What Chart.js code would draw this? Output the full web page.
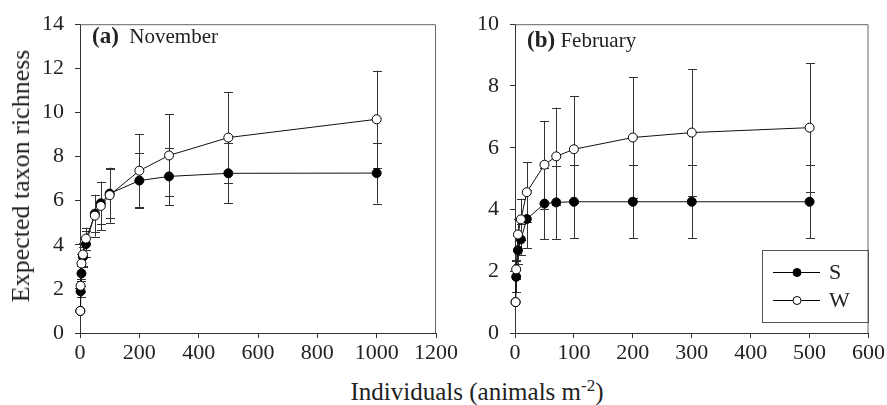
<!DOCTYPE html>
<html>
<head>
<meta charset="utf-8">
<script src="https://cdn.jsdelivr.net/npm/chart.js@4.4.1/dist/chart.umd.min.js"></script>
<style>
  body { margin: 0; background: #fff; width: 887px; height: 405px; position: relative; overflow: hidden; font-family: "Liberation Serif", "DejaVu Serif", serif; color: #222; }
  .box { position: absolute; top: 0; }
  .lbl { position: absolute; white-space: nowrap; }
  .lbl b { font-size: 23px; }
  .ytitle { position: absolute; left: 21px; top: 176px; transform: translate(-50%, -50%) rotate(-90deg); font-size: 26px; white-space: nowrap; }
  .xtitle { position: absolute; left: 477px; top: 391px; transform: translate(-50%, -50%); font-size: 25px; white-space: nowrap; }
  .xtitle sup { font-size: 17px; }
</style>
</head>
<body>
<div class="box" style="left:0;width:460px;height:370px"><canvas id="chartA" width="460" height="370"></canvas></div>
<div class="box" style="left:460px;width:427px;height:370px"><canvas id="chartB" width="427" height="370"></canvas></div>
<div class="lbl" style="left:92px;top:23px;font-size:21px"><b>(a)</b>&nbsp; November</div>
<div class="lbl" style="left:527px;top:27px;font-size:21px"><b>(b)</b> February</div>
<div class="ytitle">Expected taxon richness</div>
<div class="xtitle">Individuals (animals m<sup>-2</sup>)</div>
<script>
// (a) listopad
const xNov = [1, 2, 5, 10, 20, 50, 70, 100, 200, 300, 500, 1000];
const sNov = [1, 1.89, 2.70, 3.45, 4.03, 5.41, 5.88, 6.32, 6.91, 7.10, 7.24, 7.25];
const sNovErr = [0, 0.25, 0.35, 0.45, 0.6, 0.85, 0.95, 1.1, 1.24, 1.30, 1.36, 1.38];
const wNov = [1, 2.14, 3.15, 3.56, 4.28, 5.32, 5.76, 6.25, 7.36, 8.05, 8.86, 9.69];
const wNovErr = [0, 0.3, 0.45, 0.5, 0.5, 0.95, 1.1, 1.25, 1.67, 1.86, 2.07, 2.2];

// (b) luty
const xFeb = [1, 2, 5, 10, 20, 50, 70, 100, 200, 300, 500];
const sFeb = [1, 1.82, 2.68, 3.03, 3.69, 4.19, 4.23, 4.25, 4.25, 4.25, 4.25];
const sFebErr = [0, 0.5, 0.45, 0.5, 0.95, 1.16, 1.19, 1.18, 1.18, 1.18, 1.18];
const wFeb = [1, 2.06, 3.19, 3.68, 4.56, 5.45, 5.72, 5.95, 6.33, 6.49, 6.65];
const wFebErr = [0, 0.3, 0.5, 0.67, 0.98, 1.42, 1.58, 1.73, 1.95, 2.06, 2.09];

const yTicksNov = [0, 2, 4, 6, 8, 10, 12, 14];
const yTicksFeb = [0, 2, 4, 6, 8, 10];
const xTicksNov = [0, 200, 400, 600, 800, 1000, 1200];
const xTicksFeb = [0, 100, 200, 300, 400, 500, 600];

const serif = '"Liberation Serif", "DejaVu Serif", serif';

function pts(xs, ys) {
    return xs.map((x, i) => ({ x: x, y: ys[i] }));
}

// słupki błędów rysowane przez skale wykresu
const errorBars = {
    id: 'errorBars',
    beforeDatasetsDraw(chart) {
        const ctx = chart.ctx;
        const xs = chart.scales.x, ys = chart.scales.y;
        const a = chart.chartArea;
        ctx.save();
        // ramka wokół obszaru wykresu
        ctx.strokeStyle = '#666';
        ctx.lineWidth = 1;
        ctx.beginPath();
        ctx.moveTo(a.left, a.top + 0.5);
        ctx.lineTo(a.right - 0.5, a.top + 0.5);
        ctx.lineTo(a.right - 0.5, a.bottom);
        ctx.stroke();
        chart.data.datasets.forEach(ds => {
            if (!ds.errors) return;
            ctx.strokeStyle = '#333';
            ds.data.forEach((p, i) => {
                const e = ds.errors[i];
                if (!e) return;
                const px = Math.round(xs.getPixelForValue(p.x)) + 0.5;
                const top = ys.getPixelForValue(p.y + e);
                const bot = ys.getPixelForValue(p.y - e);
                ctx.beginPath();
                ctx.moveTo(px, top);
                ctx.lineTo(px, bot);
                ctx.moveTo(px - 4.5, Math.round(top) + 0.5);
                ctx.lineTo(px + 4.5, Math.round(top) + 0.5);
                ctx.moveTo(px - 4.5, Math.round(bot) + 0.5);
                ctx.lineTo(px + 4.5, Math.round(bot) + 0.5);
                ctx.stroke();
            });
        });
        ctx.restore();
    }
};

// legenda w ramce (tylko panel b)
const boxLegend = {
    id: 'boxLegend',
    afterDraw(chart) {
        if (!chart.options.plugins.boxLegend || !chart.options.plugins.boxLegend.show) return;
        const ctx = chart.ctx;
        const left = 762 - 460, top = 250, w = 106, h = 72;
        ctx.save();
        ctx.strokeStyle = '#555';
        ctx.lineWidth = 1;
        ctx.strokeRect(left + 0.5, top + 0.5, w, h);
        const rows = [
            { label: 'S', fill: '#000', y: top + 22 },
            { label: 'W', fill: '#fff', y: top + 50 }
        ];
        rows.forEach(r => {
            ctx.strokeStyle = '#000';
            ctx.beginPath();
            ctx.moveTo(left + 11, r.y + 0.5);
            ctx.lineTo(left + 58, r.y + 0.5);
            ctx.stroke();
            ctx.beginPath();
            ctx.arc(left + 35, r.y + 0.5, 4, 0, Math.PI * 2);
            ctx.fillStyle = r.fill;
            ctx.fill();
            ctx.stroke();
            ctx.fillStyle = '#222';
            ctx.font = '22px ' + serif;
            ctx.textBaseline = 'middle';
            ctx.fillText(r.label, left + 67, r.y + 1);
        });
        ctx.restore();
    }
};

function makeOptions(xMax, yMax, yAxisWidth, padRight, xTicks, yTicks, showLegend) {
    return {
        responsive: false,
        animation: false,
        layout: { autoPadding: false, padding: { top: 16, right: padRight, left: 0, bottom: 0 } },
        plugins: { legend: { display: false }, tooltip: { enabled: false }, boxLegend: { show: showLegend } },
        scales: {
            x: {
                type: 'linear',
                min: 0, max: xMax,
                afterBuildTicks: s => { s.ticks = xTicks.map(v => ({ value: v })); },
                afterFit: s => { s.height = 37; },
                grid: { drawOnChartArea: false, drawTicks: true, tickLength: 5, color: '#333' },
                border: { color: '#333' },
                ticks: { font: { family: serif, size: 22 }, color: '#222', padding: 2, maxRotation: 0, callback: v => String(v) }
            },
            y: {
                min: 0, max: yMax,
                afterBuildTicks: s => { s.ticks = yTicks.map(v => ({ value: v })); },
                afterFit: s => { s.width = yAxisWidth; },
                grid: { drawOnChartArea: false, drawTicks: true, tickLength: 5, color: '#333' },
                border: { color: '#333' },
                ticks: { font: { family: serif, size: 22 }, color: '#222', padding: 11, callback: v => String(v) }
            }
        }
    };
}

function makeDatasets(xs, s, sErr, w, wErr) {
    return [
        {
            label: 'S', data: pts(xs, s), errors: sErr, order: 2, clip: false,
            showLine: true, borderColor: '#111', borderWidth: 1,
            pointRadius: 4.5, pointBackgroundColor: '#000', pointBorderColor: '#000', pointBorderWidth: 1
        },
        {
            label: 'W', data: pts(xs, w), errors: wErr, order: 1, clip: false,
            showLine: true, borderColor: '#111', borderWidth: 1,
            pointRadius: 4.5, pointBackgroundColor: '#fff', pointBorderColor: '#000', pointBorderWidth: 1
        }
    ];
}

const chartNov = new Chart(document.getElementById('chartA').getContext('2d'), {
    type: 'scatter',
    data: { datasets: makeDatasets(xNov, sNov, sNovErr, wNov, wNovErr) },
    options: makeOptions(1200, 14, 80, 24, xTicksNov, yTicksNov, false),
    plugins: [errorBars, boxLegend]
});

const chartFeb = new Chart(document.getElementById('chartB').getContext('2d'), {
    type: 'scatter',
    data: { datasets: makeDatasets(xFeb, sFeb, sFebErr, wFeb, wFebErr) },
    options: makeOptions(600, 10, 55, 18, xTicksFeb, yTicksFeb, true),
    plugins: [errorBars, boxLegend]
});
</script>
</body>
</html>
